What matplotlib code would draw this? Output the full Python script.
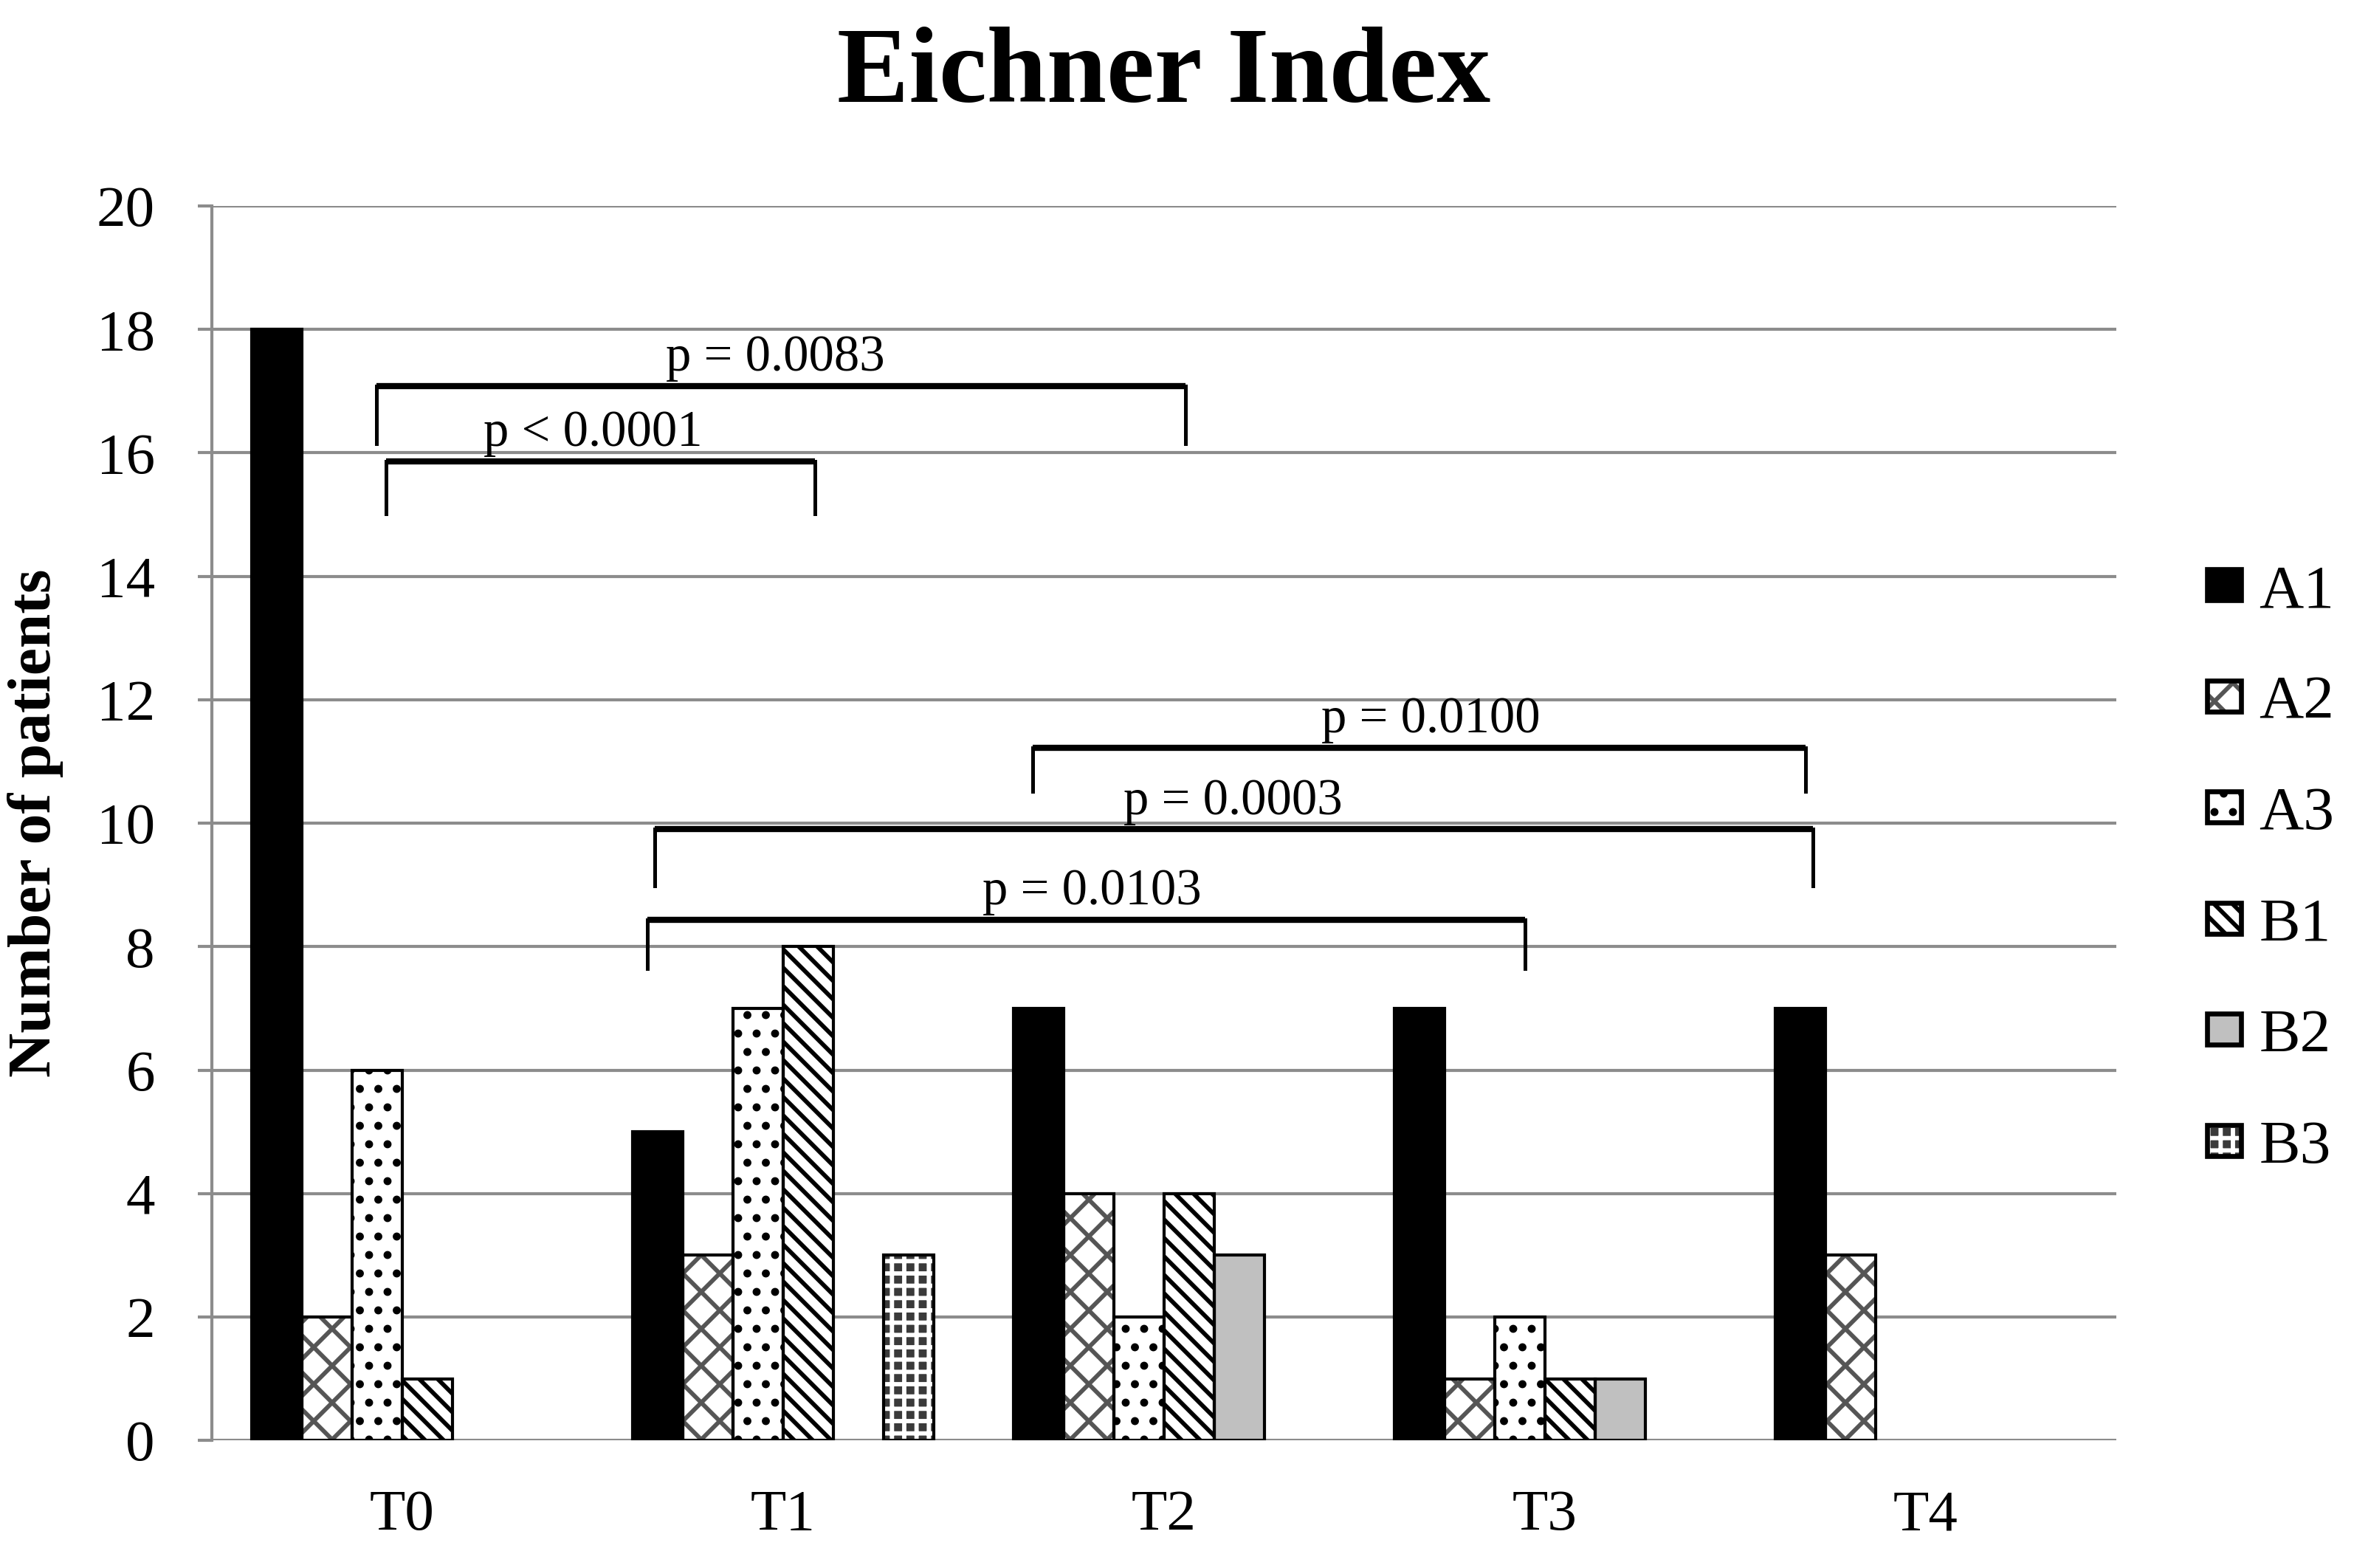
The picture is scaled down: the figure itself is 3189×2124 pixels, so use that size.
import numpy as np
import matplotlib
matplotlib.use("Agg")
import matplotlib.pyplot as plt
from matplotlib.patches import Patch
from matplotlib.legend_handler import HandlerTuple

plt.rcParams['font.family'] = ['Liberation Serif', 'DejaVu Serif']
plt.rcParams['hatch.linewidth'] = 1.4

# data
times = ["T0", "T1", "T2", "T3", "T4"]
groups = ["A1", "A2", "A3", "B1", "B2", "B3"]
A1 = [18, 5, 7, 7, 7]
A2 = [2, 3, 4, 1, 3]
A3 = [6, 7, 2, 2, 0]
B1 = [1, 8, 4, 1, 0]
B2 = [0, 0, 3, 1, 0]
B3 = [0, 3, 0, 0, 0]
values = [A1, A2, A3, B1, B2, B3]

# style per group: face colour, hatch, hatch colour
faces = ["black", "white", "white", "white", "#c0c0c0", "#3a3a3a"]
hatches = [None, "xx", "..", "\\\\\\\\", None, "+++"]
hatch_cols = ["black", "#555555", "black", "black", "black", "white"]

# significance brackets: x start, x end, top y, bottom y, label, label x
brackets = [
    (-0.067, 2.057, 17.08, 16.15, "p = 0.0083", 0.98),
    (-0.043, 1.084, 15.86, 15.01, "p < 0.0001", 0.50),
    (1.655, 3.684, 11.22, 10.51, "p = 0.0100", 2.70),
    (0.662, 3.704, 9.90, 8.98, "p = 0.0003", 2.18),
    (0.643, 2.948, 8.44, 7.64, "p = 0.0103", 1.81),
]

fig = plt.figure(figsize=(10.63, 7.08), dpi=300)
ax = fig.add_axes([0.090, 0.0814, 0.809, 0.7872])

x = np.arange(len(times))
w = 0.132
handles = []
for i, g in enumerate(groups):
    vals = np.array(values[i], dtype=float)
    keep = vals > 0
    xs = x[keep] + (i - 2.5) * w
    # hatch layer, then black outline on top
    ax.bar(xs, vals[keep], w, color=faces[i], hatch=hatches[i],
           edgecolor=hatch_cols[i], linewidth=0, zorder=3)
    ax.bar(xs, vals[keep], w, fill=False, edgecolor="black",
           linewidth=1.0, zorder=4)
    h1 = Patch(facecolor=faces[i], hatch=hatches[i], edgecolor=hatch_cols[i], linewidth=0)
    h2 = Patch(fill=False, edgecolor="black", linewidth=1.6)
    handles.append((h1, h2))

for x0, x1, yt, yb, lab, lx in brackets:
    ax.plot([x0, x1], [yt, yt], color="black", lw=2.0, solid_capstyle="butt", zorder=5)
    ax.plot([x0, x0], [yt, yb], color="black", lw=1.2, zorder=5)
    ax.plot([x1, x1], [yt, yb], color="black", lw=1.2, zorder=5)
    ax.text(lx, yt + 0.25, lab, ha="center", va="baseline", fontsize=16.5, zorder=6)

ax.set_xlim(-0.5, 4.5)
ax.set_ylim(0, 20)
ax.set_yticks(range(0, 21, 2))
ax.set_xticks(x)
ax.set_xticklabels(times)
ax.yaxis.grid(True, color="#8c8c8c", linewidth=1.0, zorder=0)
ax.set_axisbelow(True)
for s in ["top", "right", "bottom"]:
    ax.spines[s].set_visible(False)
ax.spines["left"].set_color("#8c8c8c")
ax.spines["left"].set_linewidth(1.0)
ax.tick_params(axis="y", length=4.5, width=1.0, color="#8c8c8c", pad=14, labelsize=19)
ax.tick_params(axis="x", length=0, pad=16, labelsize=19)

ax.set_ylabel("Number of patients", fontsize=20, fontweight="bold", labelpad=14)
ax.yaxis.set_label_coords(-0.078, 0.5)
fig.text(0.4945, 0.935, "Eichner Index", ha="center", va="baseline",
         fontsize=35, fontweight="bold")

leg = fig.legend(handles, groups, handler_map={tuple: HandlerTuple(ndivide=1)},
                 loc="upper left", bbox_to_anchor=(0.9375, 0.64), frameon=False,
                 fontsize=20, handlelength=0.55, handleheight=0.4,
                 handletextpad=0.3, labelspacing=0.9, borderpad=0,
                 borderaxespad=0)

fig.savefig("out.png", dpi=300)
